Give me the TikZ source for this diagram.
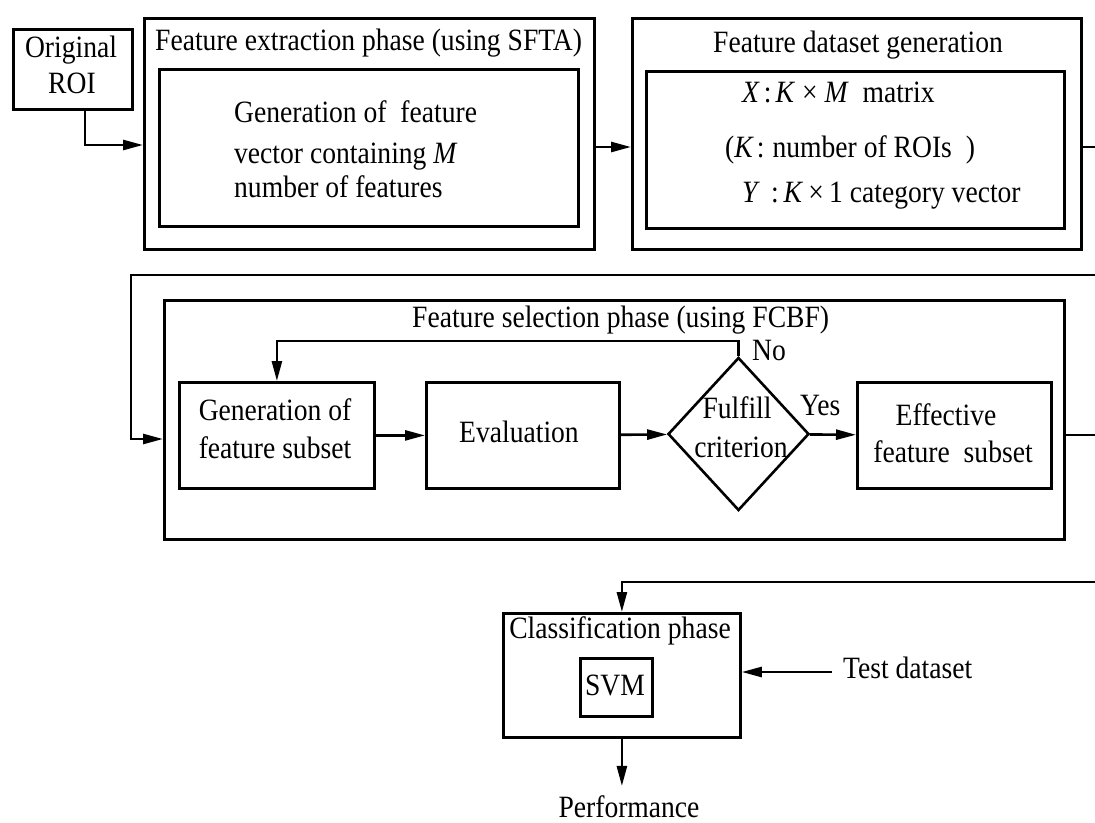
\documentclass[tikz,border=0pt]{standalone}
\usepackage{fontspec}
\setmainfont[FakeStretch=0.89]{Liberation Serif}
\usetikzlibrary{arrows.meta,shapes.geometric}
\newcommand\fs{\fontsize{31}{37}\selectfont}
\begin{document}
\begin{tikzpicture}[x=1pt,y=-1pt,
  box/.style={draw, line width=2.8pt, inner sep=0pt, anchor=north west},
  lbl/.style={inner sep=0pt, font=\fs},
  link/.style={line width=2.6pt},
  arr/.style={line width=2.6pt, -{Triangle[length=20pt,width=10pt]}}]
\useasboundingbox (0,0) rectangle (1095,822);

% ---------- row 1: extraction and dataset ----------
\node[box, line width=3.2pt, minimum width=119, minimum height=80] (orig) at (12,28) {};
\node[lbl, anchor=base] (t-orig1) at (71,57) {Original};
\node[lbl, anchor=base] (t-orig2) at (72,93) {ROI};

\node[box, minimum width=450, minimum height=231] (ext) at (143,17) {};
\node[box, minimum width=419, minimum height=157] (extin) at (158,68) {};
\node[lbl, anchor=base west] (t-ext) at (155,50) {Feature extraction phase (using SFTA)};
\node[lbl, anchor=base west] (t-ext1) at (234,122) {Generation of \ feature};
\node[lbl, anchor=base west] (t-ext2) at (234,163) {vector containing \textit{M}};
\node[lbl, anchor=base west] (t-ext3) at (234,197) {number of features};

\node[box, minimum width=449, minimum height=231] (ds) at (631,17) {};
\node[box, minimum width=418, minimum height=157] (dsin) at (645,70) {};
\node[lbl, anchor=base] (t-ds) at (858,52) {Feature dataset generation};
\node[lbl, anchor=base west] (t-ds1) at (742,102) {\textit{X}\hspace{4pt}:\hspace{4pt}\textit{K} × \textit{M}\ \ matrix};
\node[lbl, anchor=base west] (t-ds2) at (725,157) {(\textit{K}\hspace{3pt}:\hspace{8pt}number of ROIs\hspace{14pt})};
\node[lbl, anchor=base west] (t-ds3) at (742,202) {\textit{Y}\hspace{11pt}:\hspace{5pt}\textit{K}\,×\,1 category vector};

\coordinate (a1) at (85,145);
\coordinate (a2) at (0,147);
\coordinate (e1) at (1095,147);
\draw[arr] (orig.south -| a1) |- (a1 -| ext.west);
\draw[arr] (a2 -| ext.east) -- (a2 -| ds.west);
\draw[link] (a2 -| ds.east) -- (e1);

% ---------- row 2: feature selection ----------
\node[box, minimum width=900, minimum height=239] (sel) at (163,299) {};
\node[lbl, anchor=base west] (t-sel) at (412,327) {Feature selection phase (using FCBF)};

\node[box, minimum width=195, minimum height=106] (gen) at (178,381) {};
\node[lbl, anchor=base] (t-gen1) at (275,420) {Generation of};
\node[lbl, anchor=base] (t-gen2) at (275,458) {feature subset};

\node[box, minimum width=193, minimum height=106] (eval) at (425,381) {};
\node[lbl, anchor=base] (t-eval) at (519,442) {Evaluation};

\node[draw, diamond, line width=2.6pt, inner sep=0pt, minimum width=141, minimum height=153] (crit) at (738.5,434) {};
\node[lbl, anchor=base] (t-crit1) at (737,418) {Fulfill};
\node[lbl, anchor=base] (t-crit2) at (741,457) {criterion};
\node[lbl, anchor=base west] (t-no) at (752,360) {No};
\node[lbl, anchor=base west] (t-yes) at (800,415) {Yes};

\node[box, minimum width=194, minimum height=106] (eff) at (856,381) {};
\node[lbl, anchor=base] (t-eff1) at (946,425) {Effective};
\node[lbl, anchor=base] (t-eff2) at (953,462) {feature \ subset};

\coordinate (e2) at (1095,275);
\coordinate (lp) at (131,439);
\coordinate (fb) at (0,341);
\coordinate (e3) at (1095,435);
\draw[arr] (e2) -| (lp) -- (lp -| sel.west);
\draw[arr] (gen) -- (eval);
\draw[arr] (eval) -- (crit);
\draw[arr] (crit) -- (eff);
\draw[arr] (crit.north) |- (fb -| gen.north) -- (gen.north);
\draw[link] (sel.east |- e3) -- (e3);

% ---------- row 3: classification ----------
\node[box, minimum width=237, minimum height=124] (cls) at (502,612) {};
\node[lbl, anchor=base] (t-cls) at (620,638) {Classification phase};
\node[box, minimum width=72, minimum height=58] (svm) at (579,657) {};
\node[lbl, anchor=base] (t-svm) at (615,695) {SVM};
\node[lbl, anchor=base west] (t-test) at (843,678) {Test dataset};
\node[lbl, anchor=base, inner ysep=9pt] (perf) at (629,817) {Performance};

\coordinate (e4) at (1095,582);
\coordinate (ti) at (832,672);
\draw[arr] (e4) -| (cls.north);
\draw[arr] (ti) -- (ti -| cls.east);
\draw[arr] (cls.south) -- (cls.south |- perf.north);
\end{tikzpicture}
\end{document}
